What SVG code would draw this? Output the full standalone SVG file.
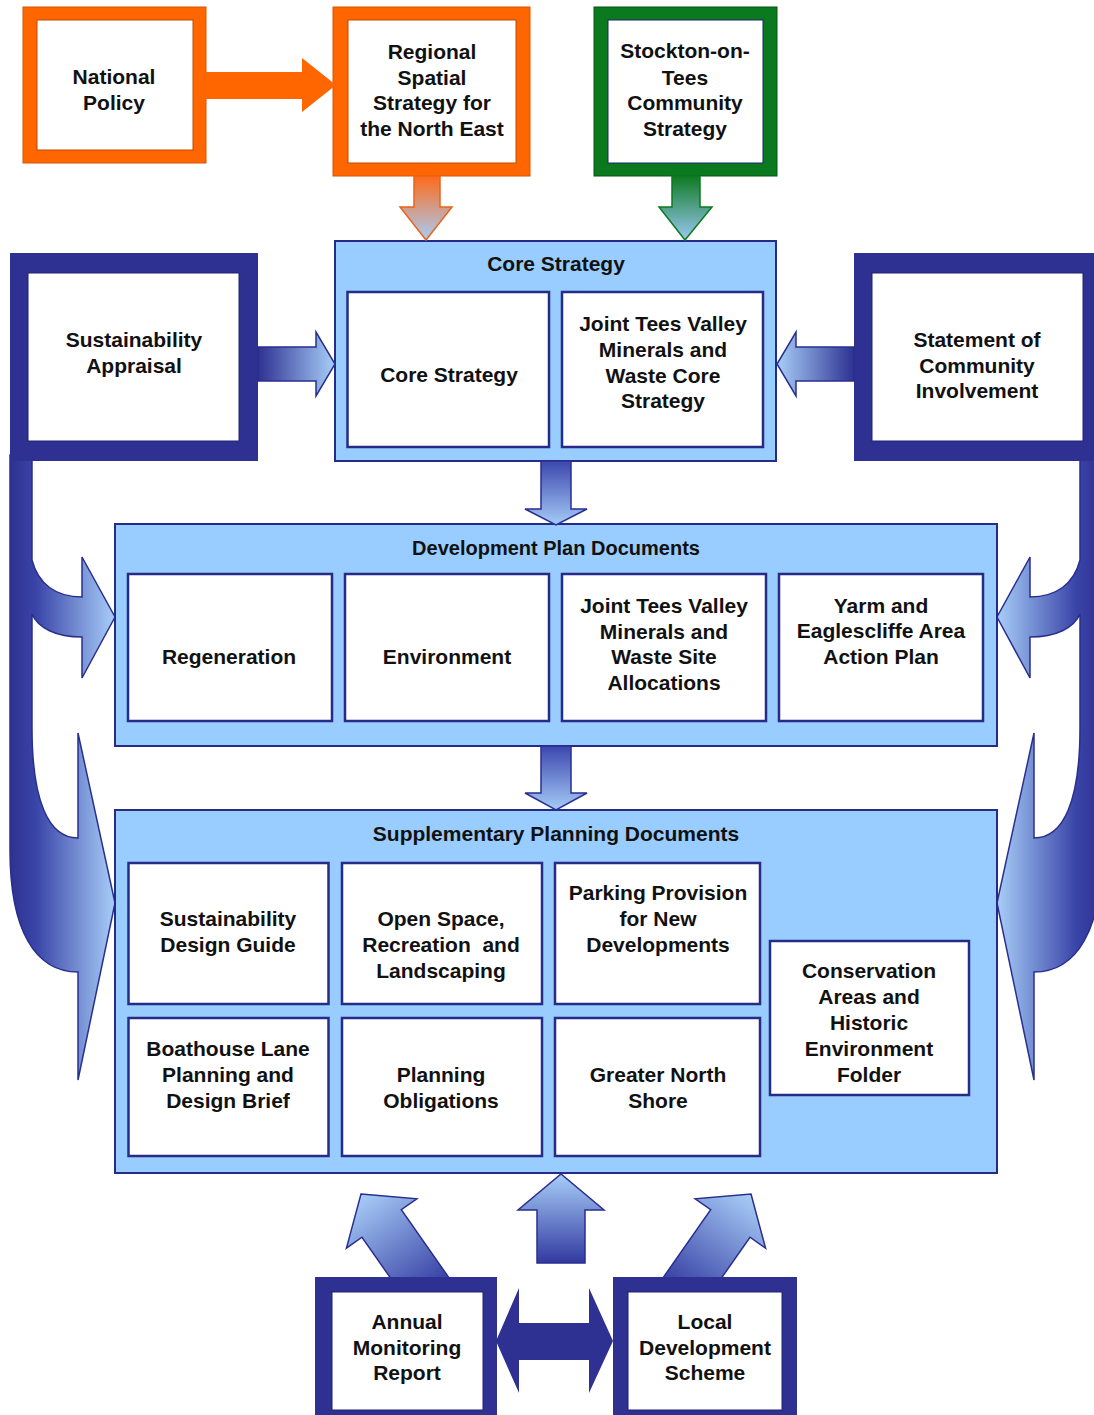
<svg xmlns="http://www.w3.org/2000/svg" width="1094" height="1415" viewBox="0 0 1094 1415">
<defs>
<style>
text{font-family:"Liberation Sans",Arial,sans-serif;font-weight:bold;font-size:21px;fill:#111;text-anchor:middle;dominant-baseline:central;white-space:pre}
.box{fill:#fff;stroke:#262B88;stroke-width:2.5}
.cont{fill:#99CCFF;stroke:#262B88;stroke-width:2}
.navy{fill:#2E3192}
.inner{fill:#fff;stroke:#1E2270;stroke-width:1}
.barrow{stroke:#2A2F8E;stroke-width:1.5;stroke-linejoin:miter}
</style>
<linearGradient id="gOrange" x1="0" y1="0" x2="0" y2="1"><stop offset="0" stop-color="#FF6A1A"/><stop offset="1" stop-color="#A6CDF8"/></linearGradient>
<linearGradient id="gGreen" x1="0" y1="0" x2="0" y2="1"><stop offset="0" stop-color="#0E7A22"/><stop offset="1" stop-color="#9CC8F5"/></linearGradient>
<linearGradient id="gDown" x1="0" y1="0" x2="0" y2="1"><stop offset="0" stop-color="#3C47AE"/><stop offset="1" stop-color="#A5CBF7"/></linearGradient>
<linearGradient id="gUp" x1="0" y1="0" x2="0" y2="1"><stop offset="0" stop-color="#A8CEF8"/><stop offset="1" stop-color="#3239A0"/></linearGradient>
<linearGradient id="gRight" x1="0" y1="0" x2="1" y2="0"><stop offset="0" stop-color="#2E3192"/><stop offset="1" stop-color="#A8CEF8"/></linearGradient>
<linearGradient id="gLeftward" x1="1" y1="0" x2="0" y2="0"><stop offset="0" stop-color="#2E3192"/><stop offset="1" stop-color="#A8CEF8"/></linearGradient>
<linearGradient id="gSide" gradientUnits="userSpaceOnUse" x1="10" y1="0" x2="115" y2="0"><stop offset="0" stop-color="#2E3192"/><stop offset="0.25" stop-color="#3A45A8"/><stop offset="1" stop-color="#A8CEF8"/></linearGradient>
</defs>
<rect width="1094" height="1415" fill="#fff"/>

<g id="connectors">
  <!-- side frame bars with curved arrows -->
  <path id="left-curved-arrows" class="barrow" fill="url(#gSide)" d="M 10,455 L 32,455 L 32,560 C 38,584 56,597 82,597 L 82,557 L 115,617 L 82,678 L 82,637 C 56,637 38,628 32,614 L 32,728 C 32,800 48,838 78,838 L 78,733 L 115,903 L 78,1080 L 78,972 C 35,972 10,930 10,850 Z"/>
  <path id="right-curved-arrows" class="barrow" fill="url(#gSide)" transform="matrix(-1 0 0 1 1112 0)" d="M 10,455 L 32,455 L 32,560 C 38,584 56,597 82,597 L 82,557 L 115,617 L 82,678 L 82,637 C 56,637 38,628 32,614 L 32,728 C 32,800 48,838 78,838 L 78,733 L 115,903 L 78,1080 L 78,972 C 35,972 10,930 10,850 Z"/>
</g>

<g id="national-policy">
  <rect x="23" y="7" width="183" height="156" fill="#FF6600" stroke="#D85400" stroke-width="1"/>
  <rect x="37" y="20" width="156" height="130" fill="#fff" stroke="#C04A00" stroke-width="1"/>
  <text x="114" y="76">National</text>
  <text x="114" y="102">Policy</text>
</g>

<g id="regional-spatial-strategy">
  <rect x="333" y="7" width="197" height="169" fill="#FF6600" stroke="#D85400" stroke-width="1"/>
  <rect x="348" y="20" width="168" height="143" fill="#fff" stroke="#C04A00" stroke-width="1"/>
  <text x="432" y="51">Regional</text>
  <text x="432" y="77">Spatial</text>
  <text x="432" y="102">Strategy for</text>
  <text x="432" y="128">the North East</text>
</g>

<g id="community-strategy">
  <rect x="594" y="7" width="183" height="169" fill="#0B7A1E" stroke="#065212" stroke-width="1"/>
  <rect x="608" y="20" width="155" height="143" fill="#fff" stroke="#1E2270" stroke-width="1"/>
  <text x="685" y="50">Stockton-on-</text>
  <text x="685" y="77">Tees</text>
  <text x="685" y="102">Community</text>
  <text x="685" y="128">Strategy</text>
</g>

<g id="sustainability-appraisal">
  <rect class="navy" x="10" y="253" width="248" height="208"/>
  <rect class="inner" x="28" y="273" width="211" height="168"/>
  <text x="134" y="339">Sustainability</text>
  <text x="134" y="365">Appraisal</text>
</g>

<g id="statement-community-involvement">
  <rect class="navy" x="854" y="253" width="248" height="208"/>
  <rect class="inner" x="872" y="273" width="211" height="168"/>
  <text x="977" y="339">Statement of</text>
  <text x="977" y="365">Community</text>
  <text x="977" y="390">Involvement</text>
</g>

<g id="core-strategy-group">
  <rect class="cont" x="335" y="241" width="441" height="220"/>
  <text x="556" y="263">Core Strategy</text>
  <g id="core-strategy">
    <rect class="box" x="347.5" y="292" width="201.5" height="155"/>
    <text x="449" y="374">Core Strategy</text>
  </g>
  <g id="joint-core-strategy">
    <rect class="box" x="562" y="292" width="201" height="155"/>
    <text x="663" y="323">Joint Tees Valley</text>
    <text x="663" y="349">Minerals and</text>
    <text x="663" y="375">Waste Core</text>
    <text x="663" y="400">Strategy</text>
  </g>
</g>

<g id="development-plan-documents">
  <rect class="cont" x="115" y="524" width="882" height="222"/>
  <text x="556" y="548" style="font-size:20px">Development Plan Documents</text>
  <g id="regeneration">
    <rect class="box" x="128" y="574" width="204" height="147"/>
    <text x="229" y="656">Regeneration</text>
  </g>
  <g id="environment">
    <rect class="box" x="345" y="574" width="204" height="147"/>
    <text x="447" y="656">Environment</text>
  </g>
  <g id="joint-site-allocations">
    <rect class="box" x="562" y="574" width="204" height="147"/>
    <text x="664" y="605">Joint Tees Valley</text>
    <text x="664" y="631">Minerals and</text>
    <text x="664" y="656">Waste Site</text>
    <text x="664" y="682">Allocations</text>
  </g>
  <g id="yarm-action-plan">
    <rect class="box" x="779" y="574" width="204" height="147"/>
    <text x="881" y="605">Yarm and</text>
    <text x="881" y="630">Eaglescliffe Area</text>
    <text x="881" y="656">Action Plan</text>
  </g>
</g>

<g id="supplementary-planning-documents">
  <rect class="cont" x="115" y="810" width="882" height="363"/>
  <text x="556" y="833">Supplementary Planning Documents</text>
  <g id="sustainability-design-guide">
    <rect class="box" x="128.5" y="863" width="200" height="141"/>
    <text x="228" y="918">Sustainability</text>
    <text x="228" y="944">Design Guide</text>
  </g>
  <g id="open-space">
    <rect class="box" x="342" y="863" width="200" height="141"/>
    <text x="441" y="918">Open Space,</text>
    <text x="441" y="944">Recreation  and</text>
    <text x="441" y="970">Landscaping</text>
  </g>
  <g id="parking-provision">
    <rect class="box" x="555" y="863" width="205" height="141"/>
    <text x="658" y="892">Parking Provision</text>
    <text x="658" y="918">for New</text>
    <text x="658" y="944">Developments</text>
  </g>
  <g id="boathouse-lane">
    <rect class="box" x="128.5" y="1018" width="200" height="138"/>
    <text x="228" y="1048">Boathouse Lane</text>
    <text x="228" y="1074">Planning and</text>
    <text x="228" y="1100">Design Brief</text>
  </g>
  <g id="planning-obligations">
    <rect class="box" x="342" y="1018" width="200" height="138"/>
    <text x="441" y="1074">Planning</text>
    <text x="441" y="1100">Obligations</text>
  </g>
  <g id="greater-north-shore">
    <rect class="box" x="555" y="1018" width="205" height="138"/>
    <text x="658" y="1074">Greater North</text>
    <text x="658" y="1100">Shore</text>
  </g>
  <g id="conservation-areas">
    <rect class="box" x="770" y="941" width="199" height="154"/>
    <text x="869" y="970">Conservation</text>
    <text x="869" y="996">Areas and</text>
    <text x="869" y="1022">Historic</text>
    <text x="869" y="1048">Environment</text>
    <text x="869" y="1074">Folder</text>
  </g>
</g>

<g id="connectors-arrows">
  <polygon fill="#FF6600" points="205,72 302,72 302,58 336,85 302,112 302,99 205,99"/>
  <polygon fill="url(#gOrange)" stroke="#E8641A" stroke-width="1.5" points="414,176 440,176 440,207 452,207 426,240 400,207 414,207"/>
  <polygon fill="url(#gGreen)" stroke="#0B7A1E" stroke-width="1.5" points="672,176 700,176 700,207 712,207 685,240 659,207 672,207"/>
  <polygon class="barrow" fill="url(#gRight)" points="258,347 316,347 316,332 335,364 316,396 316,381 258,381"/>
  <polygon class="barrow" fill="url(#gLeftward)" points="854,347 796,347 796,332 777,364 796,396 796,381 854,381"/>
  <polygon class="barrow" fill="url(#gDown)" points="541,461 571,461 571,509 587,509 556,525 525,509 541,509"/>
  <polygon class="barrow" fill="url(#gDown)" points="541,746 571,746 571,793 587,793 556,810 525,793 541,793"/>
  <polygon class="barrow" fill="url(#gUp)" points="537,1263 585,1263 585,1210 604,1210 561,1174 518,1210 537,1210"/>
  <g transform="translate(361,1194) rotate(-35)">
    <polygon class="barrow" fill="url(#gUp)" points="0,0 43,36 24,36 24,125 -24,125 -24,36 -43,36"/>
  </g>
  <g transform="translate(751,1194) rotate(35)">
    <polygon class="barrow" fill="url(#gUp)" points="0,0 43,36 24,36 24,125 -24,125 -24,36 -43,36"/>
  </g>
  <polygon fill="#2E3192" points="496,1341 519,1288 519,1323 589,1323 589,1288 613,1341 589,1393 589,1360 519,1360 519,1393"/>
</g>

<g id="annual-monitoring-report">
  <rect class="navy" x="315" y="1277" width="182" height="150"/>
  <rect class="inner" x="332" y="1292" width="151" height="118"/>
  <text x="407" y="1321">Annual</text>
  <text x="407" y="1347">Monitoring</text>
  <text x="407" y="1372">Report</text>
</g>

<g id="local-development-scheme">
  <rect class="navy" x="613" y="1277" width="184" height="150"/>
  <rect class="inner" x="628" y="1292" width="154" height="118"/>
  <text x="705" y="1321">Local</text>
  <text x="705" y="1347">Development</text>
  <text x="705" y="1372">Scheme</text>
</g>
</svg>
